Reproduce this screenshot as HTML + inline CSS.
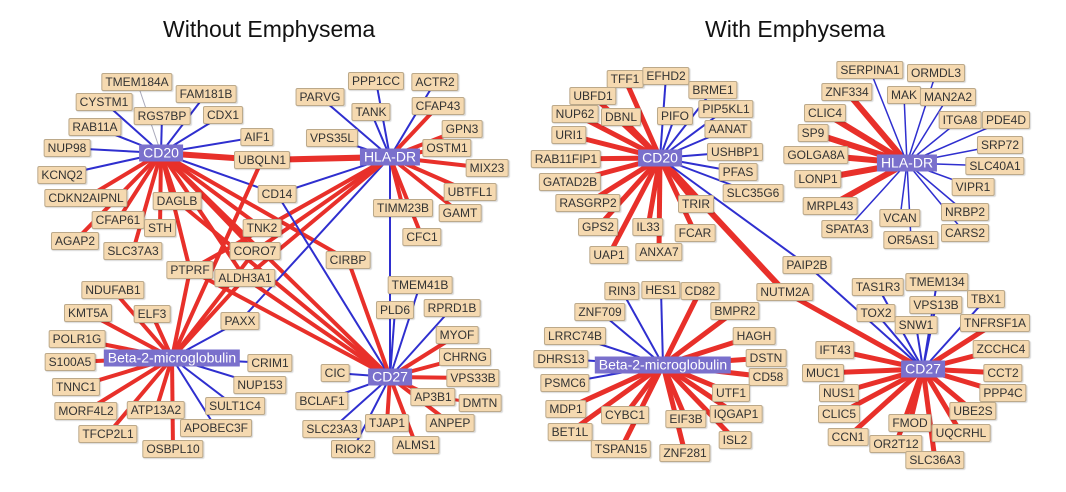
<!DOCTYPE html>
<html><head><meta charset="utf-8">
<style>
html,body{margin:0;padding:0;background:#fff;}
#wrap{position:relative;width:1066px;height:492px;overflow:hidden;font-family:"Liberation Sans",sans-serif;}
svg{position:absolute;left:0;top:0;}
.n{position:absolute;transform:translate(-50%,-50%);background:#f5d9b0;border:1px solid #bca98a;border-radius:2px;font-size:12px;line-height:14px;padding:1px 3px;color:#333;white-space:nowrap;box-shadow:1px 1px 1px rgba(0,0,0,0.15);}
.h{position:absolute;transform:translate(-50%,-50%);background:#7a70cc;color:#fff;font-size:14px;line-height:17px;padding:0 4px;white-space:nowrap;}
.t{position:absolute;font-size:23px;color:#111;top:16px;}
</style></head><body>
<div id="wrap">
<svg id="s" width="1066" height="492"></svg>
<div class="t" style="left:163px">Without Emphysema</div>
<div class="t" style="left:705px">With Emphysema</div>
</div>
<script>
var N={
'TMEM184A':[137,82],'FAM181B':[206,94],'CYSTM1':[104,102],'RGS7BP':[162,116],'CDX1':[223,115],'RAB11A':[95,127],'AIF1':[257,137],'VPS35L':[332,138],'NUP98':[67,148],'UBQLN1':[262,160],'KCNQ2':[62,175],'CD14':[277,194],'CDKN2AIPNL':[86,198],'DAGLB':[177,201],'CFAP61':[118,220],'STH':[160,228],'TNK2':[262,228],'AGAP2':[75,241],'SLC37A3':[133,251],'CORO7':[255,251],'CIRBP':[348,260],'PARVG':[320,97],'PPP1CC':[376,81],'ACTR2':[435,82],'TANK':[371,112],'CFAP43':[438,106],'GPN3':[462,129],'OSTM1':[447,148],'MIX23':[487,168],'UBTFL1':[470,192],'TIMM23B':[403,208],'GAMT':[460,213],'CFC1':[422,237],
'PTPRF':[190,270],'ALDH3A1':[245,278],'TMEM41B':[420,285],'NDUFAB1':[113,290],'PLD6':[395,310],'RPRD1B':[452,308],'KMT5A':[88,313],'ELF3':[152,314],'PAXX':[240,321],'MYOF':[457,335],'POLR1G':[77,339],'CHRNG':[465,357],'S100A5':[70,362],'CRIM1':[270,363],'CIC':[335,373],'VPS33B':[473,378],'NUP153':[260,385],'TNNC1':[76,387],'AP3B1':[433,397],'DMTN':[480,403],'BCLAF1':[322,401],'SULT1C4':[235,406],'MORF4L2':[86,411],'ATP13A2':[156,410],'ANPEP':[450,423],'TJAP1':[387,423],'SLC23A3':[332,429],'APOBEC3F':[216,428],'TFCP2L1':[108,434],'ALMS1':[416,445],'RIOK2':[353,449],'OSBPL10':[173,449],
'TFF1':[625,79],'EFHD2':[666,76],'BRME1':[713,90],'UBFD1':[593,96],'NUP62':[575,114],'DBNL':[621,117],'PIFO':[675,116],'PIP5KL1':[726,109],'AANAT':[728,129],'URI1':[569,135],'USHBP1':[735,152],'RAB11FIP1':[566,159],'PFAS':[738,172],'GATAD2B':[570,182],'SLC35G6':[753,193],'RASGRP2':[588,203],'TRIR':[696,204],'GPS2':[598,227],'IL33':[648,227],'FCAR':[695,233],'UAP1':[609,255],'ANXA7':[659,252],'PAIP2B':[807,265],
'SERPINA1':[870,70],'ORMDL3':[936,73],'ZNF334':[847,92],'MAK':[904,95],'MAN2A2':[948,97],'CLIC4':[825,113],'ITGA8':[960,120],'PDE4D':[1006,120],'SP9':[813,133],'SRP72':[1000,145],'GOLGA8A':[816,155],'SLC40A1':[995,166],'LONP1':[818,179],'VIPR1':[973,187],'MRPL43':[830,206],'NRBP2':[965,212],'VCAN':[900,218],'SPATA3':[847,229],'CARS2':[965,233],'OR5AS1':[911,240],
'RIN3':[622,291],'HES1':[661,290],'CD82':[700,291],'TAS1R3':[878,287],'TMEM134':[937,282],'NUTM2A':[785,292],'TBX1':[986,299],'ZNF709':[600,312],'BMPR2':[735,311],'TOX2':[876,313],'VPS13B':[936,305],'SNW1':[916,325],'TNFRSF1A':[995,323],'LRRC74B':[575,336],'HAGH':[754,336],'IFT43':[835,350],'ZCCHC4':[1001,349],'DHRS13':[561,359],'DSTN':[766,358],'MUC1':[823,373],'CCT2':[1003,373],'CD58':[768,377],'PSMC6':[565,383],'NUS1':[839,393],'UTF1':[731,393],'PPP4C':[1003,393],'MDP1':[566,409],'CYBC1':[625,415],'EIF3B':[686,419],'IQGAP1':[736,414],'CLIC5':[839,414],'UBE2S':[973,411],'FMOD':[910,423],'BET1L':[570,432],'ISL2':[735,440],'UQCRHL':[961,433],'CCN1':[848,437],'OR2T12':[896,444],'TSPAN15':[621,449],'ZNF281':[685,453],'SLC36A3':[935,460]
};
var H={'aCD20':['CD20',161,153],'aHLA':['HLA-DR',390,157],'aB2M':['Beta-2-microglobulin',172,358],'aCD27':['CD27',390,377],
'bCD20':['CD20',660,158],'bHLA':['HLA-DR',907,163],'bB2M':['Beta-2-microglobulin',663,365],'bCD27':['CD27',923,369]};
function P(k){if(H[k])return [H[k][1],H[k][2]];return N[k];}
var E=[];
function add(h,c,w,list){list.split(' ').forEach(function(n){E.push([h,n,c,w]);});}
add('aCD20','b',2,'CYSTM1 RGS7BP FAM181B CDX1 RAB11A AIF1 NUP98 KCNQ2 CD14');
add('aCD20','#aab',1,'TMEM184A');
add('aCD20','r',6,'UBQLN1');
add('aCD20','r',4,'CDKN2AIPNL CFAP61 AGAP2 SLC37A3 STH DAGLB PTPRF CORO7 TNK2 CIRBP aCD27 ALDH3A1');
add('aHLA','b',2,'PARVG PPP1CC TANK ACTR2 VPS35L CD14 TNK2 PAXX aCD27');
add('aHLA','r',6,'UBQLN1');
add('aHLA','r',4,'CFAP43 GPN3 OSTM1 MIX23 UBTFL1 GAMT TIMM23B CFC1 CORO7 ALDH3A1 PTPRF');
add('aB2M','r',4,'NDUFAB1 KMT5A ELF3 POLR1G S100A5 TNNC1 MORF4L2 ATP13A2 TFCP2L1 OSBPL10 PTPRF ALDH3A1 UBQLN1 CORO7');
add('aB2M','b',2,'PAXX CRIM1 NUP153 SULT1C4 APOBEC3F');
add('aCD27','b',2,'TMEM41B PLD6 RPRD1B CIC BCLAF1 SLC23A3 RIOK2 CD14');
add('aCD27','r',4,'MYOF CHRNG VPS33B AP3B1 ANPEP ALMS1 TJAP1 CIRBP PTPRF ALDH3A1 DAGLB');
add('bCD20','r',5,'TFF1 UBFD1 NUP62 DBNL URI1 RAB11FIP1 GATAD2B RASGRP2 GPS2 UAP1 IL33 ANXA7 FCAR TRIR');
add('bCD20','r',6,'NUTM2A');
add('bCD20','b',2,'EFHD2 PIFO BRME1 PIP5KL1 AANAT USHBP1 PFAS SLC35G6 PAIP2B');
add('bHLA','r',6,'ZNF334 CLIC4 SP9 GOLGA8A LONP1 MRPL43');
add('bHLA','b',1.5,'SERPINA1 ORMDL3 MAK MAN2A2 ITGA8 PDE4D SRP72 SLC40A1 VIPR1 NRBP2 VCAN SPATA3 CARS2 OR5AS1');
add('bB2M','b',2,'RIN3 HES1 ZNF709 LRRC74B DHRS13 PSMC6');
add('bB2M','r',5,'CD82 BMPR2 HAGH DSTN CD58 UTF1 IQGAP1 ISL2 ZNF281 EIF3B TSPAN15 CYBC1 BET1L MDP1');
add('bCD27','b',2,'TAS1R3 TOX2 TMEM134 VPS13B SNW1 TBX1 PAIP2B');
add('bCD27','r',5,'NUTM2A IFT43 MUC1 NUS1 CLIC5 CCN1 OR2T12 FMOD SLC36A3 UQCRHL UBE2S PPP4C CCT2 ZCCHC4 TNFRSF1A');
E.push(['AP3B1','DMTN','r',3]);
var s='';
E.forEach(function(e){var a=P(e[0]),b=P(e[1]);var c=e[2]=='r'?'#e8302a':(e[2]=='b'?'#2f2fcf':e[2]);
s+='<line x1="'+a[0]+'" y1="'+a[1]+'" x2="'+b[0]+'" y2="'+b[1]+'" stroke="'+c+'" stroke-width="'+e[3]+'"/>';});
document.getElementById('s').innerHTML=s;
var w=document.getElementById('wrap'),h='';
for(var k in N)h+='<div class="n" style="left:'+N[k][0]+'px;top:'+N[k][1]+'px">'+k+'</div>';
for(var k in H)h+='<div class="h" style="left:'+H[k][1]+'px;top:'+H[k][2]+'px">'+H[k][0]+'</div>';
w.insertAdjacentHTML('beforeend',h);
</script>
</body></html>
